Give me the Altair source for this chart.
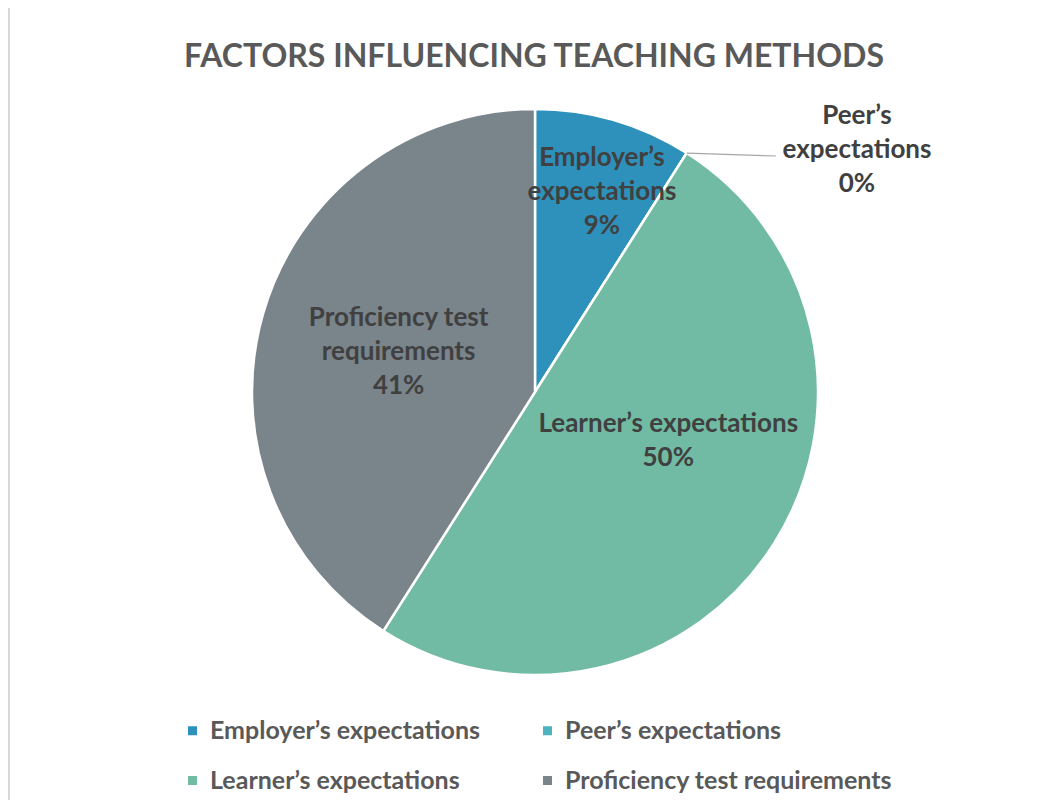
import math
import altair as alt
import pandas as pd

# ---------------- data ----------------
categories = ["Employer’s expectations", "Peer’s expectations",
              "Learner’s expectations", "Proficiency test requirements"]
values = [9, 0, 50, 41]
label_lines = [["Employer’s", "expectations"], ["Peer’s", "expectations"],
               ["Learner’s expectations"], ["Proficiency test", "requirements"]]
colors = ["#2E91BB", "#4DB3C1", "#71BBA4", "#7A848B"]
title_text = "FACTORS INFLUENCING TEACHING METHODS"

# ---------------- derived table ----------------
total = sum(values)
rows = []
cum = 0.0
for i, (c, v, lines) in enumerate(zip(categories, values, label_lines)):
    mid = (cum + v / 2) / total * 2 * math.pi
    cum += v
    pct = round(100 * v / total)
    rows.append({"category": c, "value": v, "order": i, "mid": mid,
                 "label": "\n".join(lines + [f"{pct}%"])})
df = pd.DataFrame(rows)

# ---------------- layout ----------------
W, H = 1032, 792
CX, CY, R = 527, 384, 283
FONT = "Lato"
LH = 34

pie = alt.Chart(df).mark_arc(outerRadius=R, stroke="white", strokeWidth=2.5).encode(
    theta=alt.Theta("value:Q", stack=True),
    order=alt.Order("order:Q"),
    x=alt.value(CX), y=alt.value(CY),
    color=alt.Color(
        "category:N",
        scale=alt.Scale(domain=categories, range=colors),
        sort=categories,
        legend=alt.Legend(
            title=None, orient="none", legendX=172, legendY=710,
            direction="horizontal", columns=2, columnPadding=55, rowPadding=24,
            symbolType="square", symbolSize=81, symbolStrokeWidth=0,
            labelFont=FONT, labelFontWeight="bold", labelFontSize=25,
            labelColor="#595959", labelOffset=5, labelLimit=600,
            padding=0,
        ),
    ),
)

# label placement (radius px, theta offset rad) per category
label_place = {
    categories[0]: (211, 0.04),
    categories[1]: (403, 0.36),
    categories[2]: (142, -0.213),
    categories[3]: (142, 0.0),
}

layers = [pie]
for i, (cat, (rad, off)) in enumerate(label_place.items()):
    n = len(label_lines[i]) + 1
    t = alt.Chart(df).transform_filter(
        alt.datum.category == cat
    ).transform_calculate(
        th=f"datum.mid + ({off})"
    ).mark_text(
        radius=rad, font=FONT, fontWeight="bold", fontSize=26,
        color="#404040", lineBreak="\n", lineHeight=LH,
        align="center", baseline="middle", dy=-(n - 1) * LH / 2,
    ).encode(
        theta=alt.Theta("th:Q", scale=None),
        x=alt.value(CX), y=alt.value(CY),
        text="label:N",
    )
    layers.append(t)

# leader line for the zero slice
leader = alt.Chart(df).transform_filter(
    alt.datum.category == categories[1]
).transform_calculate(
    lx=f"{CX} + {R} * sin(datum.mid)",
    ly=f"{CY} - {R} * cos(datum.mid)",
).mark_rule(color="#A6A6A6", strokeWidth=1.2).encode(
    x=alt.X("lx:Q", scale=None), y=alt.Y("ly:Q", scale=None),
    x2=alt.value(768), y2=alt.value(148),
)
layers.append(leader)

title = alt.Chart(pd.DataFrame({"t": [title_text]})).mark_text(
    font=FONT, fontWeight="bold", fontSize=32, color="#595959",
    align="center", baseline="alphabetic",
).encode(x=alt.value(526), y=alt.value(59), text="t:N")
layers.append(title)

edge = alt.Chart(pd.DataFrame({"t": [0]})).mark_rule(color="#D9D9D9", strokeWidth=2).encode(
    x=alt.value(1), y=alt.value(0), y2=alt.value(H)
)
layers.append(edge)

chart = alt.layer(*layers).properties(
    width=W, height=H, autosize="none", padding=0, background="white"
).configure_view(stroke=None)

chart.save("out.html", embed_options={"renderer": "svg", "actions": False})
